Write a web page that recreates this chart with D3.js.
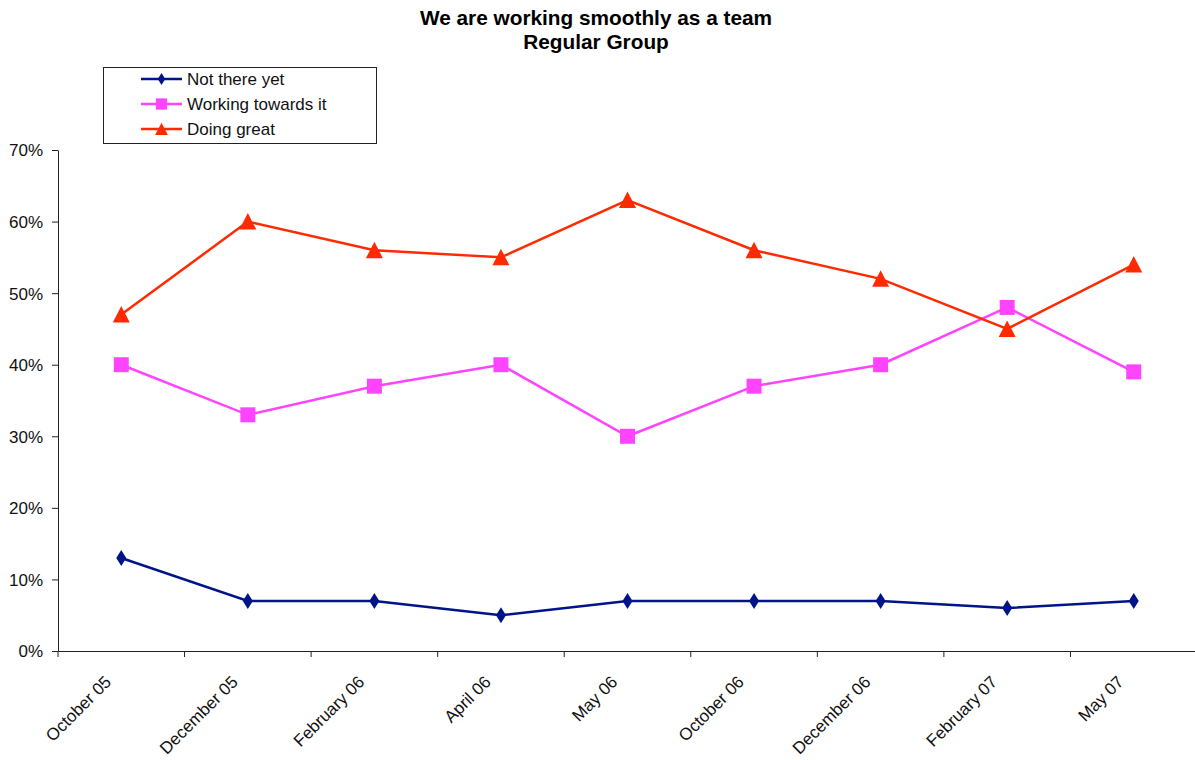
<!DOCTYPE html>
<html><head><meta charset="utf-8">
<script src="https://cdn.jsdelivr.net/npm/d3@7"></script>
<style>body{margin:0;background:#fff}svg{display:block;font-family:Arial,"Liberation Sans",sans-serif}</style>
</head><body><svg id="c" width="1195" height="760"></svg>
<script>
const categories = ["October 05","December 05","February 06","April 06","May 06","October 06","December 06","February 07","May 07"];
const notThereYet = [13,7,7,5,7,7,7,6,7];
const workingTowards = [40,33,37,40,30,37,40,48,39];
const doingGreat = [47,60,56,55,63,56,52,45,54];
const yTicks = [0,10,20,30,40,50,60,70];
const seriesNames = ["Not there yet","Working towards it","Doing great"];
const colors = ["#001489","#ff44ff","#ff2a00"];
const symbols = ["diamond","square","triangle"];

const svg = d3.select("#c");
const pLeft = 58, pRight = 1197, pTop = 150, pBottom = 651;
const x = d3.scaleBand().domain(categories).range([pLeft, pRight]);
const y = d3.scaleLinear().domain([0,70]).range([pBottom, pTop]);
const FONT = "Arial, 'Liberation Sans', sans-serif";

// title
svg.append("text").attr("x",596).attr("y",25).attr("text-anchor","middle").attr("font-weight","bold").attr("font-size",20.8).text("We are working smoothly as a team");
svg.append("text").attr("x",596).attr("y",49).attr("text-anchor","middle").attr("font-weight","bold").attr("font-size",20.8).text("Regular Group");

// y axis
const ya = svg.append("g").attr("transform",`translate(${pLeft},0)`).call(d3.axisLeft(y).tickValues(yTicks).tickSize(6).tickSizeOuter(0).tickFormat(d=>d+"%"));
ya.select(".domain").attr("stroke","#222");
ya.selectAll(".tick line").attr("stroke","#222");
ya.selectAll(".tick text").attr("font-size",17).attr("fill","#111").attr("font-family",FONT).attr("x",-15).attr("dy","0.35em");

// x axis
const xa = svg.append("g").attr("transform",`translate(0,${pBottom})`).call(d3.axisBottom(x).tickSize(0).tickSizeOuter(0));
xa.select(".domain").attr("stroke","#222");
xa.selectAll(".tick text").remove();
const bounds = categories.map(c=>x(c)).concat([pRight]);
xa.selectAll("line.bt").data(bounds).enter().append("line").attr("class","bt")
  .attr("x1",d=>d).attr("x2",d=>d).attr("y1",0).attr("y2",6).attr("stroke","#222");
svg.append("g").selectAll("text").data(categories).enter().append("text")
  .attr("text-anchor","end").attr("font-size",17).attr("fill","#111")
  .attr("transform",d=>`translate(${x(d)+x.bandwidth()/2-9},${pBottom+32}) rotate(-45)`)
  .text(d=>d);

// series
const allSeries = [notThereYet, workingTowards, doingGreat];
function sym(i){
  if (symbols[i]==="diamond") return "M0,-8L5,0L0,8L-5,0Z";
  if (symbols[i]==="square") return "M-7.5,-7.5H7.5V7.5H-7.5Z";
  return "M0,-8.5L8.5,8L-8.5,8Z";
}
const line = d3.line().x((d,i)=>x(categories[i])+x.bandwidth()/2).y(d=>y(d));
allSeries.forEach((vals,si)=>{
  const g = svg.append("g");
  g.append("path").datum(vals).attr("d",line).attr("fill","none").attr("stroke",colors[si]).attr("stroke-width",2.5);
  g.selectAll("path.m").data(vals).enter().append("path").attr("class","m")
    .attr("d",sym(si)).attr("fill",colors[si])
    .attr("transform",(d,i)=>`translate(${x(categories[i])+x.bandwidth()/2},${y(d)})`);
});

// legend
const lg = svg.append("g");
lg.append("rect").attr("x",103.5).attr("y",67.5).attr("width",273).attr("height",76).attr("fill","#fff").attr("stroke","#222").attr("stroke-width",1);
seriesNames.forEach((n,i)=>{
  const yy = 79 + i*25;
  lg.append("line").attr("x1",141).attr("x2",182).attr("y1",yy).attr("y2",yy).attr("stroke",colors[i]).attr("stroke-width",2.5);
  lg.append("path").attr("d",sym(i)).attr("fill",colors[i]).attr("transform",`translate(161.5,${yy}) scale(0.75)`);
  lg.append("text").attr("x",187).attr("y",yy).attr("dy","0.35em").attr("font-size",17).attr("fill","#111").text(n);
});
</script></body></html>
